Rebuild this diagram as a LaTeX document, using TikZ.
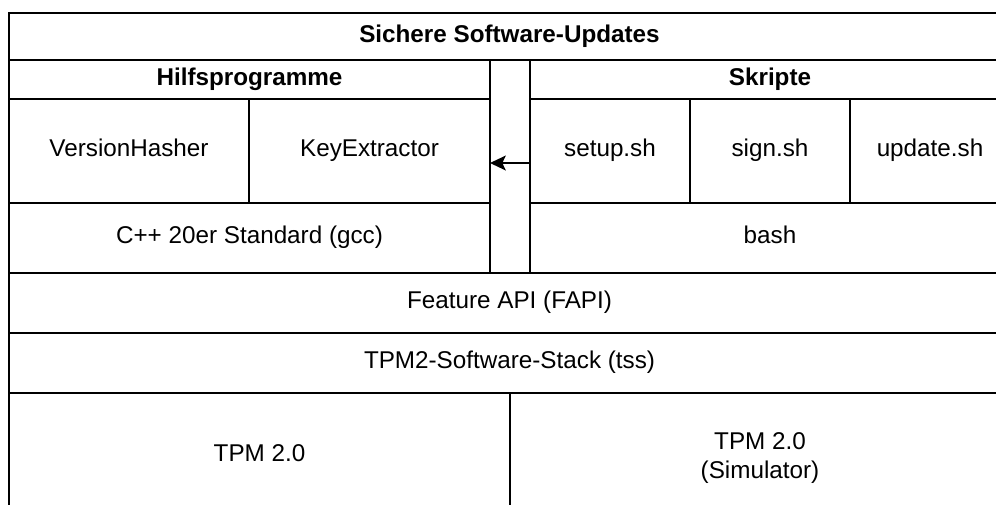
\documentclass[tikz,border=0pt]{standalone}
\usepackage{fontspec}
\setmainfont{Liberation Sans}
\usetikzlibrary{arrows.meta}

% Feld: [Stil]{Name}{x1}{y1}{x2}{y2}{Text}
\newcommand{\feld}[7][zelle]{\node[#1, minimum width={(#5-#3)*0.02cm}, minimum height={(#6-#4)*0.02cm}] (#2) at ({(#3+#5)/2},{(#4+#6)/2}) {\strut#7};}

\begin{document}
\begin{tikzpicture}[x=0.02cm,y=-0.02cm]
        \tikzstyle{every node}=[font=\fontsize{13.8}{17}\selectfont]
        \tikzstyle{zelle}=[draw,line width=0.8pt,rectangle,inner sep=0pt,outer sep=0pt,align=center]
        \tikzstyle{kopf}=[zelle,font=\fontsize{13.8}{17}\selectfont\bfseries]
        \useasboundingbox (0,0) rectangle (996,504);
        \clip (0,0) rectangle (996,504);
        % oberer Teil
        \feld[kopf]{titel}{9}{13}{1010}{60}{Sichere Software-Updates}
        \feld[kopf]{hilfs}{9}{60}{490}{99}{Hilfsprogramme}
        \feld{mitte}{490}{60}{530}{273}{}
        \feld[kopf]{skripte}{530}{60}{1010}{99}{Skripte}
        \feld{version}{9}{99}{249}{203}{VersionHasher}
        \feld{keyex}{249}{99}{490}{203}{KeyExtractor}
        \feld{setup}{530}{99}{690}{203}{setup.sh}
        \feld{sign}{690}{99}{850}{203}{sign.sh}
        \feld{update}{850}{99}{1010}{203}{update.sh}
        \feld{cpp}{9}{203}{490}{273}{C++ 20er Standard (gcc)}
        \feld{bash}{530}{203}{1010}{273}{bash}
        % unterer Teil
        \feld{fapi}{9}{273}{1010}{333}{Feature API (FAPI)}
        \feld{tss}{9}{333}{1010}{393}{TPM2-Software-Stack (tss)}
        \feld{tpm}{9}{393}{510}{519}{TPM 2.0}
        \feld{sim}{510}{393}{1010}{519}{TPM 2.0\\(Simulator)}
        \coordinate (pfeil) at (setup.west |- 0,163);
        \draw[line width=0.8pt,-{Stealth[length=9pt,width=8.5pt,inset=2pt]}] (pfeil) -- (mitte.west |- pfeil);
    \end{tikzpicture}
\end{document}
